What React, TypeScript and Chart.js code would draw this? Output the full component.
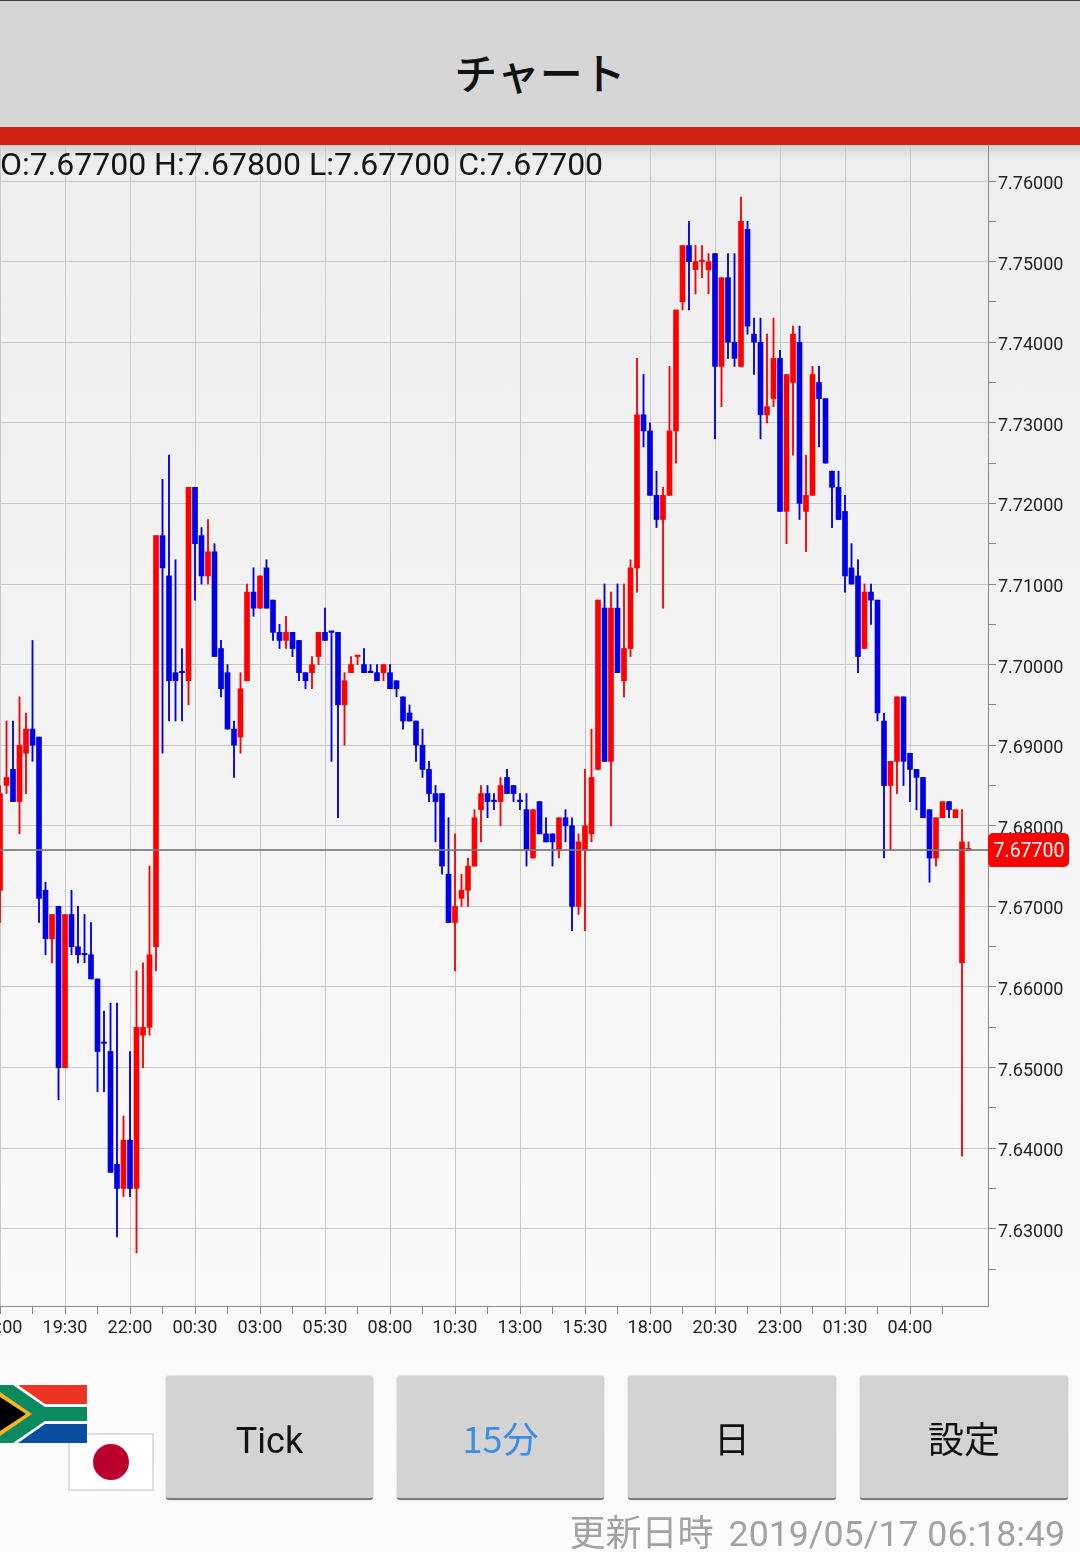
import React, { useEffect, useRef } from "react";
import { Chart, registerables } from "chart.js";

Chart.register(...registerables);

const opens = [
  7.672, 7.685, 7.687, 7.683, 7.689, 7.692, 7.691, 7.672, 7.666, 7.670,
  7.650, 7.669, 7.665, 7.664, 7.664, 7.661, 7.653, 7.652, 7.638, 7.635,
  7.641, 7.635, 7.654, 7.655, 7.665, 7.716, 7.711, 7.699, 7.699, 7.698,
  7.722, 7.716, 7.711, 7.714, 7.702, 7.699, 7.692, 7.691, 7.698, 7.709,
  7.707, 7.712, 7.708, 7.704, 7.703, 7.704, 7.703, 7.699, 7.699, 7.701,
  7.704, 7.704, 7.704, 7.695, 7.699, 7.701, 7.700, 7.699, 7.699, 7.699,
  7.699, 7.698, 7.696, 7.694, 7.693, 7.690, 7.687, 7.684, 7.684, 7.674,
  7.668, 7.671, 7.672, 7.675, 7.682, 7.684, 7.683, 7.683, 7.686, 7.685,
  7.683, 7.682, 7.676, 7.683, 7.679, 7.679, 7.677, 7.681, 7.680, 7.670,
  7.677, 7.679, 7.687, 7.707, 7.688, 7.707, 7.698, 7.702, 7.712, 7.731,
  7.729, 7.721, 7.718, 7.721, 7.729, 7.745, 7.752, 7.749, 7.750, 7.749,
  7.751, 7.737, 7.748, 7.740, 7.737, 7.754, 7.741, 7.740, 7.731, 7.733,
  7.738, 7.719, 7.735, 7.740, 7.719, 7.721, 7.735, 7.733, 7.724, 7.722,
  7.719, 7.712, 7.711, 7.702, 7.709, 7.708, 7.693, 7.685, 7.688, 7.696,
  7.689, 7.687, 7.686, 7.682, 7.676, 7.681, 7.683, 7.681, 7.663, 7.677,
];
const closes = [
  7.684, 7.686, 7.683, 7.690, 7.692, 7.690, 7.671, 7.666, 7.669, 7.650,
  7.669, 7.665, 7.664, 7.664, 7.661, 7.652, 7.653, 7.637, 7.635, 7.641,
  7.635, 7.655, 7.655, 7.664, 7.716, 7.712, 7.698, 7.698, 7.699, 7.722,
  7.715, 7.711, 7.714, 7.701, 7.697, 7.692, 7.690, 7.697, 7.709, 7.707,
  7.711, 7.707, 7.704, 7.703, 7.704, 7.702, 7.699, 7.698, 7.700, 7.704,
  7.703, 7.704, 7.695, 7.698, 7.700, 7.701, 7.699, 7.699, 7.698, 7.700,
  7.697, 7.697, 7.693, 7.693, 7.690, 7.687, 7.684, 7.683, 7.675, 7.668,
  7.670, 7.672, 7.675, 7.681, 7.684, 7.683, 7.683, 7.685, 7.684, 7.684,
  7.683, 7.677, 7.682, 7.679, 7.678, 7.678, 7.681, 7.680, 7.670, 7.678,
  7.680, 7.686, 7.708, 7.688, 7.707, 7.699, 7.702, 7.712, 7.731, 7.729,
  7.721, 7.718, 7.721, 7.729, 7.744, 7.752, 7.750, 7.750, 7.750, 7.750,
  7.737, 7.748, 7.740, 7.738, 7.755, 7.742, 7.740, 7.731, 7.732, 7.738,
  7.719, 7.736, 7.741, 7.720, 7.721, 7.736, 7.733, 7.725, 7.722, 7.718,
  7.711, 7.710, 7.701, 7.709, 7.708, 7.694, 7.685, 7.688, 7.696, 7.688,
  7.687, 7.686, 7.681, 7.676, 7.681, 7.683, 7.682, 7.682, 7.678, 7.677,
];
const highs = [
  7.685, 7.693, 7.693, 7.696, 7.694, 7.703, 7.691, 7.673, 7.669, 7.670,
  7.669, 7.672, 7.670, 7.669, 7.668, 7.661, 7.657, 7.658, 7.658, 7.644,
  7.652, 7.662, 7.663, 7.675, 7.716, 7.723, 7.726, 7.713, 7.702, 7.722,
  7.722, 7.717, 7.718, 7.715, 7.703, 7.700, 7.693, 7.699, 7.710, 7.712,
  7.711, 7.713, 7.708, 7.705, 7.706, 7.704, 7.703, 7.699, 7.701, 7.704,
  7.707, 7.704, 7.704, 7.699, 7.701, 7.701, 7.702, 7.700, 7.700, 7.700,
  7.700, 7.698, 7.696, 7.695, 7.693, 7.692, 7.688, 7.685, 7.684, 7.681,
  7.679, 7.674, 7.676, 7.682, 7.685, 7.685, 7.684, 7.686, 7.687, 7.685,
  7.684, 7.684, 7.682, 7.683, 7.681, 7.679, 7.681, 7.682, 7.681, 7.679,
  7.687, 7.692, 7.708, 7.710, 7.709, 7.710, 7.710, 7.713, 7.738, 7.736,
  7.730, 7.724, 7.722, 7.737, 7.744, 7.752, 7.755, 7.752, 7.752, 7.751,
  7.751, 7.748, 7.751, 7.751, 7.758, 7.755, 7.743, 7.743, 7.741, 7.743,
  7.739, 7.736, 7.742, 7.742, 7.726, 7.737, 7.737, 7.733, 7.724, 7.724,
  7.721, 7.715, 7.713, 7.710, 7.710, 7.708, 7.694, 7.688, 7.696, 7.696,
  7.689, 7.687, 7.686, 7.682, 7.681, 7.683, 7.683, 7.682, 7.682, 7.678,
];
const lows = [
  7.668, 7.684, 7.683, 7.679, 7.684, 7.688, 7.668, 7.664, 7.663, 7.646,
  7.650, 7.664, 7.663, 7.663, 7.661, 7.647, 7.647, 7.637, 7.629, 7.634,
  7.634, 7.627, 7.650, 7.654, 7.662, 7.689, 7.693, 7.693, 7.693, 7.695,
  7.708, 7.710, 7.710, 7.701, 7.696, 7.692, 7.686, 7.689, 7.698, 7.706,
  7.707, 7.707, 7.703, 7.702, 7.702, 7.701, 7.698, 7.697, 7.697, 7.700,
  7.703, 7.688, 7.681, 7.690, 7.699, 7.700, 7.699, 7.699, 7.698, 7.698,
  7.697, 7.696, 7.692, 7.693, 7.688, 7.686, 7.683, 7.678, 7.674, 7.668,
  7.662, 7.670, 7.670, 7.675, 7.678, 7.681, 7.682, 7.680, 7.684, 7.683,
  7.682, 7.675, 7.676, 7.679, 7.678, 7.675, 7.676, 7.678, 7.667, 7.669,
  7.667, 7.678, 7.687, 7.688, 7.680, 7.699, 7.696, 7.701, 7.709, 7.727,
  7.721, 7.717, 7.707, 7.721, 7.725, 7.744, 7.744, 7.746, 7.748, 7.746,
  7.728, 7.732, 7.738, 7.737, 7.737, 7.741, 7.736, 7.728, 7.730, 7.732,
  7.719, 7.715, 7.726, 7.718, 7.714, 7.721, 7.727, 7.725, 7.717, 7.718,
  7.709, 7.710, 7.699, 7.702, 7.705, 7.693, 7.676, 7.677, 7.684, 7.685,
  7.683, 7.682, 7.681, 7.673, 7.675, 7.681, 7.681, 7.681, 7.639, 7.677,
];
const flatDownCandles = [13, 16, 28, 51, 57, 76, 80];
const timeLabels = [
  "17:00", "19:30", "22:00", "00:30", "03:00", "05:30", "08:00", "10:30",
  "13:00", "15:30", "18:00", "20:30", "23:00", "01:30", "04:00",
];
const priceTicks = [
  7.625, 7.63, 7.635, 7.64, 7.645, 7.65, 7.655, 7.66, 7.665, 7.67, 7.675, 7.68,
  7.685, 7.69, 7.695, 7.7, 7.705, 7.71, 7.715, 7.72, 7.725, 7.73, 7.735, 7.74,
  7.745, 7.75, 7.755, 7.76,
];
const currentPrice = 7.677;
const ohlcText = "O:7.67700 H:7.67800 L:7.67700 C:7.67700";
const buttons = ["Tick", "15分", "日", "設定"];
const updatedLabel = "更新日時";
const updatedTime = "2019/05/17 06:18:49";
const titleText = "チャート";

const UP = "#ff0000";
const DOWN = "#0000e6";
const isDown = (i: number) => closes[i] < opens[i] || flatDownCandles.includes(i);
const colors = opens.map((_, i) => (isDown(i) ? DOWN : UP));
const isMajorPrice = (v: number) => Math.round(v * 1000) % 10 === 0;

const pricePlugin = {
  id: "priceLine",
  afterDatasetsDraw(chart: any) {
    const { ctx, chartArea, scales } = chart;
    const y = scales.y.getPixelForValue(currentPrice);
    ctx.save();
    ctx.strokeStyle = "rgba(120,120,120,0.85)";
    ctx.lineWidth = 2;
    ctx.beginPath();
    ctx.moveTo(chartArea.left, y);
    ctx.lineTo(chartArea.right, y);
    ctx.stroke();
    ctx.fillStyle = "#ff0000";
    ctx.beginPath();
    ctx.roundRect(chartArea.right, y - 17, 81, 34, 5);
    ctx.fill();
    ctx.fillStyle = "#ffffff";
    ctx.font = "19.5px Roboto";
    ctx.textAlign = "center";
    ctx.textBaseline = "middle";
    ctx.fillText(currentPrice.toFixed(5), chartArea.right + 41, y + 2);
    ctx.restore();
  },
};

export default function App() {
  const ref = useRef<HTMLCanvasElement>(null);
  useEffect(() => {
    const chart = new Chart(ref.current as HTMLCanvasElement, {
      type: "bar",
      data: {
        datasets: [
          {
            data: opens.map((_, i) => ({ x: i, y: [lows[i], highs[i]] })),
            backgroundColor: colors,
            barThickness: 1.2,
            grouped: false,
            order: 2,
          },
          {
            data: opens.map((o, i) => ({ x: i, y: [o, closes[i]] })),
            backgroundColor: colors,
            barThickness: 5,
            minBarLength: 1.5,
            grouped: false,
            order: 1,
          },
        ] as any,
      },
      options: {
        responsive: false,
        animation: false,
        devicePixelRatio: 1,
        layout: { padding: { top: 145, bottom: 200, left: 0, right: 0 } },
        plugins: { legend: { display: false }, tooltip: { enabled: false } },
        scales: {
          x: {
            type: "linear",
            min: 0,
            max: 152,
            offset: false,
            grid: {
              offset: false,
              color: (c: any) => (c.tick && c.tick.value % 10 === 0 ? "#c9c9c9" : "transparent"),
              tickColor: "#888888",
              tickLength: 8,
              lineWidth: 1,
            },
            border: { color: "#888888", width: 1 },
            afterBuildTicks: (s: any) => {
              s.ticks = s.ticks.filter((t: any) => t.value < opens.length - 1 - 3);
            },
            ticks: {
              stepSize: 5,
              includeBounds: false,
              autoSkip: false,
              maxRotation: 0,
              padding: 4,
              color: "#222222",
              font: { family: "Roboto", size: 18 },
              callback: (v: any) => (v % 10 === 0 ? timeLabels[v / 10] ?? "" : ""),
            },
            afterFit: (s: any) => {
              s.height = 46;
              s.paddingLeft = s.paddingRight = s.paddingTop = s.paddingBottom = 0;
            },
          },
          y: {
            position: "right",
            min: 7.62042,
            max: 7.76447,
            grid: {
              color: (c: any) => (c.tick && isMajorPrice(c.tick.value) ? "#c9c9c9" : "transparent"),
              tickColor: "#888888",
              tickLength: 8,
              lineWidth: 1,
            },
            border: { color: "#888888", width: 1 },
            afterBuildTicks: (s: any) => {
              s.ticks = priceTicks.map((value) => ({ value }));
            },
            ticks: {
              autoSkip: false,
              padding: 2,
              color: "#222222",
              font: { family: "Roboto", size: 18, lineHeight: "7px" },
              callback: (v: any) => (isMajorPrice(v) ? ["", Number(v).toFixed(5)] : ""),
            },
            afterFit: (s: any) => {
              s.width = 92;
              s.paddingLeft = s.paddingRight = s.paddingTop = s.paddingBottom = 0;
            },
          },
        },
      } as any,
      plugins: [pricePlugin],
    });
    return () => chart.destroy();
  }, []);

  const buttonLeft = [166, 397, 628, 860];
  const buttonWidth = [207, 207, 208, 208];
  const cjk = '"Noto Sans CJK JP", Roboto, sans-serif';

  return (
    <div
      style={{
        position: "absolute",
        left: 0,
        top: 0,
        width: 1080,
        height: 1552,
        overflow: "hidden",
        background: "linear-gradient(#eeeeee 145px, #f9f9f9 1250px, #fcfcfc 1552px)",
        fontFamily: "Roboto, sans-serif",
      }}
    >
      <div style={{ position: "absolute", left: 0, top: 145, width: 1080, height: 14, background: "linear-gradient(rgba(0,0,0,0.12), rgba(0,0,0,0))" }} />
      <canvas ref={ref} width={1080} height={1552} style={{ position: "absolute", left: 0, top: 0, display: "block" }} />
      <div
        style={{
          position: "absolute", left: 0, top: 0, width: 1080, height: 127, boxSizing: "border-box",
          borderTop: "1px solid #444", background: "#d5d6d5", textAlign: "center",
          fontFamily: cjk, fontSize: 43, fontWeight: 500, lineHeight: "140px", color: "#111",
        }}
      >
        {titleText}
      </div>
      <div style={{ position: "absolute", left: 0, top: 127, width: 1080, height: 18, background: "#cf2114" }} />
      <div style={{ position: "absolute", left: 0, top: 145, fontSize: 32, lineHeight: "38px", color: "#151515", whiteSpace: "pre" }}>
        {ohlcText}
      </div>

      <div style={{ position: "absolute", left: 68, top: 1433, width: 86, height: 58, boxSizing: "border-box", background: "#fff", border: "2px solid #dedede" }}>
        <div style={{ position: "absolute", left: 23, top: 9, width: 36, height: 36, borderRadius: "50%", background: "#bc002d" }} />
      </div>
      <svg style={{ position: "absolute", left: 0, top: 1385 }} width={87} height={58} viewBox="0 0 87 58">
        <rect x={0} y={0} width={87} height={58} fill="#ffffff" />
        <polygon points="18,0 87,0 87,19 45,19" fill="#ee3524" />
        <polygon points="18,58 87,58 87,39 45,39" fill="#0a4ea2" />
        <polygon points="0,0 13,0 45,22 87,22 87,36 45,36 13,58 0,58" fill="#0a8a5e" />
        <polygon points="0,7 32,29 0,51" fill="#f5b324" />
        <polygon points="0,12 26,29 0,46" fill="#000000" />
      </svg>

      {buttons.map((b, i) => (
        <div
          key={b}
          style={{
            position: "absolute", left: buttonLeft[i], top: 1376, width: buttonWidth[i], height: 124,
            boxSizing: "border-box", background: "#d3d3d3", borderRadius: 3,
            borderBottom: "2px solid #777", boxShadow: "0 0 2px rgba(0,0,0,0.25)",
            textAlign: "center", lineHeight: "122px", fontSize: 36,
            fontFamily: cjk, color: b === "15分" ? "#3a8ee6" : "#111",
          }}
        >
          {b === "Tick" ? <span style={{ fontFamily: "Roboto" }}>{b}</span> : b}
        </div>
      ))}

      <div style={{ position: "absolute", right: 15, top: 1510, lineHeight: "40px", color: "#a2a2a2", whiteSpace: "pre" }}>
        <span style={{ fontFamily: cjk, fontSize: 36 }}>{updatedLabel}</span>
        <span style={{ fontFamily: "Roboto", fontSize: 35.7, marginLeft: 15 }}>{updatedTime}</span>
      </div>
    </div>
  );
}
